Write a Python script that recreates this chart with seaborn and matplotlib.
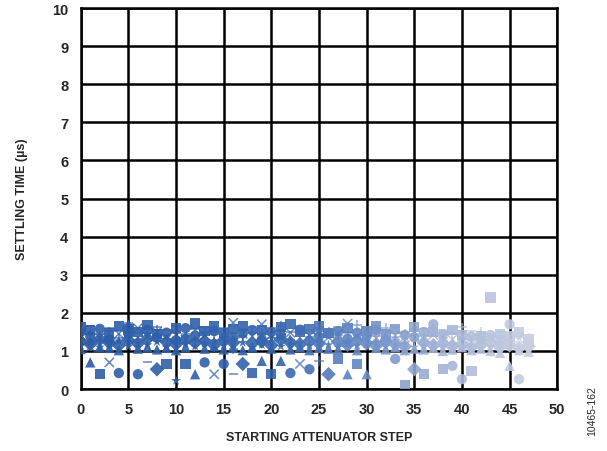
import numpy as np
import pandas as pd
import matplotlib
matplotlib.use('Agg')
import matplotlib.pyplot as plt
from matplotlib.colors import LinearSegmentedColormap
import seaborn as sns

# starting attenuator step for every measurement
steps = list(range(48))

# settling time (us) per test condition, one value per step
cond_a = [1.62, 1.55, 0.39, 1.48, 1.66, 1.58, 1.50, 1.68, 1.45, 0.66, 1.60, 0.66,
          1.72, 1.52, 1.64, 1.48, 1.58, 1.66, 0.42, 1.55, 0.39, 1.62, 1.70, 1.50,
          1.58, 1.64, 1.48, 0.79, 1.60, 0.66, 1.52, 1.65, 1.45, 1.58, 0.09, 1.62,
          0.39, 1.50, 0.52, 1.55, 1.42, 0.48, 1.40, 2.40, 1.45, 1.38, 1.50, 1.30]
cond_b = [1.50, 1.38, 1.58, 1.30, 0.42, 1.45, 0.39, 1.55, 1.35, 1.48, 1.28, 1.60,
          1.40, 0.70, 1.52, 0.66, 1.36, 1.46, 1.55, 1.30, 1.50, 1.42, 0.42, 1.56,
          0.52, 1.38, 1.45, 1.52, 1.32, 1.48, 1.40, 1.55, 1.28, 0.79, 1.42, 1.36,
          1.50, 1.70, 1.44, 0.61, 0.26, 1.38, 1.30, 1.42, 1.25, 1.70, 0.26, 1.20]
cond_c = [1.25, 1.18, 1.30, 1.22, 1.15, 1.28, 1.20, 1.32, 0.52, 1.24, 1.18, 1.30,
          1.22, 1.26, 1.16, 1.28, 1.22, 0.66, 1.20, 1.25, 1.15, 1.30, 1.22, 1.18,
          1.26, 1.20, 0.39, 1.24, 1.16, 1.28, 1.20, 1.14, 1.25, 1.18, 1.12, 0.52,
          1.22, 1.15, 1.20, 1.12, 1.18, 1.10, 1.16, 1.22, 1.10, 1.15, 1.08, 1.12]
cond_d = [1.05, 0.70, 1.10, 1.08, 1.02, 1.70, 1.06, 1.10, 1.04, 1.08, 1.02, 1.10,
          0.39, 1.06, 1.12, 1.04, 1.08, 1.02, 1.10, 0.74, 1.06, 0.74, 1.04, 1.10,
          1.02, 1.08, 1.06, 1.04, 0.39, 1.02, 0.39, 1.08, 1.04, 1.10, 1.02, 1.06,
          1.04, 1.08, 1.00, 1.04, 1.10, 1.02, 1.06, 1.00, 0.95, 0.61, 1.02, 0.98]
cond_e = [1.40, 1.10, 1.35, 0.70, 1.45, 1.32, 1.60, 1.38, 1.50, 1.35, 1.42, 1.30,
          1.55, 1.40, 0.39, 1.36, 1.74, 1.45, 1.38, 1.70, 1.42, 1.35, 1.48, 0.66,
          1.40, 1.52, 1.36, 1.45, 1.72, 1.38, 1.50, 1.34, 1.44, 1.40, 1.36, 1.48,
          1.32, 1.42, 1.38, 1.30, 1.40, 1.34, 1.28, 1.36, 1.30, 1.25, 1.32, 1.22]
cond_f = [1.30, 1.44, 1.26, 1.52, 1.34, 1.40, 1.28, 1.46, 1.56, 1.32, 1.48, 1.38,
          1.26, 1.50, 1.44, 1.30, 1.05, 1.38, 1.48, 1.42, 1.34, 1.66, 1.30, 1.44,
          1.36, 0.74, 1.50, 1.42, 1.46, 1.68, 1.34, 1.40, 1.60, 1.36, 1.46, 1.30,
          1.40, 1.60, 1.34, 1.44, 1.62, 1.28, 1.50, 1.32, 1.40, 1.28, 1.45, 1.35]
cond_g = [1.15, 1.22, 1.10, 1.18, 1.26, 1.12, 1.20, 1.16, 1.24, 1.10, 0.22, 1.18,
          1.12, 1.20, 1.26, 1.14, 1.18, 1.22, 1.10, 1.16, 1.24, 1.12, 1.18, 1.20,
          1.14, 1.22, 1.16, 1.10, 1.20, 1.14, 1.18, 1.22, 1.12, 1.16, 1.20, 1.10,
          1.14, 1.18, 1.12, 1.16, 1.08, 1.14, 1.10, 1.12, 1.06, 1.10, 1.04, 1.08]
cond_h = [1.58, 1.66, 1.45, 1.60, 1.52, 1.74, 1.48, 0.70, 1.62, 1.56, 1.66, 1.44,
          1.58, 1.64, 1.50, 1.60, 0.39, 1.54, 1.64, 1.48, 1.60, 1.56, 1.50, 1.66,
          1.54, 1.60, 1.58, 1.62, 1.50, 1.56, 1.64, 1.48, 1.56, 1.62, 1.50, 1.44,
          1.58, 1.40, 1.55, 1.48, 1.36, 1.52, 1.44, 1.38, 1.50, 1.42, 1.34, 1.30]

filled = {'A': cond_a, 'B': cond_b, 'C': cond_c, 'D': cond_d, 'G': cond_g}
lines = {'E': cond_e, 'F': cond_f, 'H': cond_h}


def to_long(series):
    '''
    Takes a dict of condition name -> settling times and
    returns one long df with step, time and condition columns
    '''
    frames = []
    for name, vals in series.items():
        frames.append(pd.DataFrame({'step': steps, 'time': vals,
                                    'cond': name}))
    return pd.concat(frames, ignore_index=True)


def main():
    sns.set_style('white')
    plt.rcParams['font.family'] = ['Liberation Sans', 'DejaVu Sans']

    # dark blue on the left fading to pale grey-blue on the right
    cmap = LinearSegmentedColormap.from_list(
        'fade', [(0.0, '#2b5ca6'), (0.45, '#3465ae'), (0.62, '#6488c4'),
                 (0.8, '#a3b3d6'), (1.0, '#c8cee0')])

    fig = plt.figure(figsize=(6.07, 4.52), dpi=100)
    ax = fig.add_axes([0.133, 0.137, 0.785, 0.843])

    sns.scatterplot(data=to_long(filled), x='step', y='time', hue='step',
                    style='cond', markers=['s', 'o', 'D', '^', '*'],
                    palette=cmap, hue_norm=(0, 47), s=55, linewidth=0,
                    alpha=0.9, legend=False, ax=ax, zorder=3)
    sns.scatterplot(data=to_long(lines), x='step', y='time', hue='step',
                    style='cond', markers=['x', '+', '_'],
                    palette=cmap, hue_norm=(0, 47), s=45, linewidth=1.1,
                    alpha=0.75, legend=False, ax=ax, zorder=3)

    ax.set_xlim(0, 50)
    ax.set_ylim(0, 10)
    ax.set_xticks(range(0, 51, 5))
    ax.set_yticks(range(0, 11, 1))
    ax.grid(True, color='black', linewidth=1.8)
    ax.set_axisbelow(True)
    for sp in ax.spines.values():
        sp.set_color('black')
        sp.set_linewidth(1.8)
    ax.tick_params(length=0, labelsize=10.5, pad=9)
    for lab in ax.get_xticklabels() + ax.get_yticklabels():
        lab.set_fontweight('bold')

    ax.set_xlabel('STARTING ATTENUATOR STEP', fontsize=9, fontweight='bold',
                  labelpad=11)
    ax.set_ylabel('SETTLING TIME (µs)', fontsize=9, fontweight='bold',
                  labelpad=17)

    fig.text(0.975, 0.09, '10465-162', rotation=90, fontsize=7.5,
             ha='center', va='center')

    fig.savefig('out.png', dpi=100)


if __name__ == '__main__':
    main()
